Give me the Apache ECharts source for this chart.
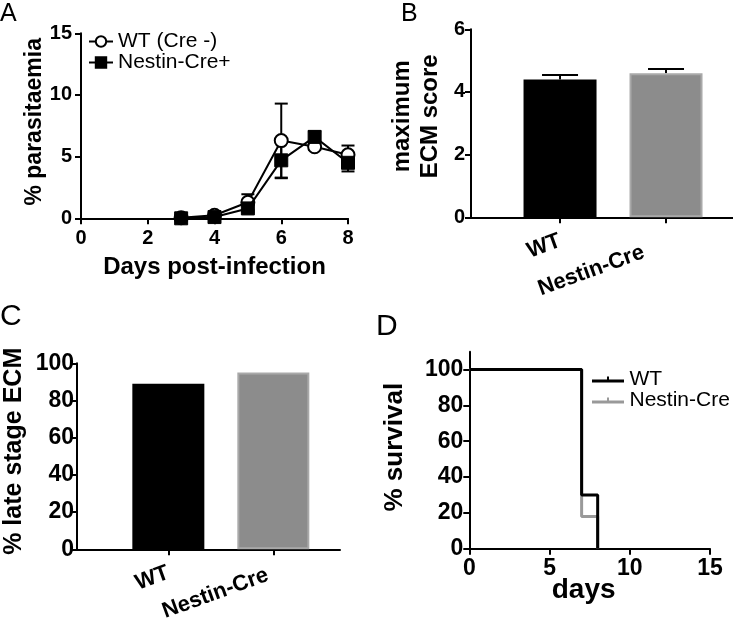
<!DOCTYPE html>
<html><head><meta charset="utf-8">
<script src="https://cdn.jsdelivr.net/npm/echarts@6/dist/echarts.min.js"></script>
<style>html,body{margin:0;padding:0;background:#fff}#c{width:733px;height:620px}</style>
</head><body><div id="c"></div>
<script>
const FONT = '"Liberation Sans", Arial, Helvetica, sans-serif';

// Panel A: parasitaemia over time (mean ± SEM)
const daysA = [3, 4, 5, 6, 7, 8];
const wtMeanA = [0.05, 0.25, 1.3, 6.3, 5.8, 5.15];
const wtSemA = [0.1, 0.15, 0.65, 3.0, 0.25, 0.75];
const nestinMeanA = [0.0, 0.1, 0.8, 4.7, 6.6, 4.5];
const nestinSemA = [0.1, 0.1, 0.3, 1.45, 0.45, 0.7];
const legendA = ['WT (Cre -)', 'Nestin-Cre+'];

// Panel B: maximum ECM score
const groupsB = ['WT', 'Nestin-Cre'];
const meanB = [4.40, 4.60];
const semB = [0.14, 0.13];

// Panel C: % late stage ECM
const groupsC = ['WT', 'Nestin-Cre'];
const valuesC = [89, 95];

// Panel D: survival (Kaplan-Meier steps)
const wtSurvDays = [0, 7, 8];
const wtSurv = [100, 30, 0];
const nestinSurvDays = [0, 7, 8];
const nestinSurv = [100, 18, 0];
const legendD = ['WT', 'Nestin-Cre'];

const barColors = ['#000000', '#8c8c8c'];
const barBorders = ['#000000', '#a9a9a9'];

const lineStyle = { color: '#000', width: 2 };
function axLabel(extra) {
  return Object.assign({ color: '#000', fontWeight: 'bold', fontSize: 20, fontFamily: FONT }, extra || {});
}
function nameStyle(extra) {
  return Object.assign({ color: '#000', fontWeight: 'bold', fontSize: 22, fontFamily: FONT }, extra || {});
}

function errRender(capHalf, upperOnly) {
  return function (params, api) {
    const x = api.value(0), lo = api.value(1), hi = api.value(2);
    const top = api.coord([x, hi]);
    const bot = api.coord([x, lo]);
    const st = { stroke: '#000', lineWidth: 2, fill: null };
    const ch = [
      { type: 'line', shape: { x1: top[0], y1: top[1], x2: bot[0], y2: bot[1] }, style: st },
      { type: 'line', shape: { x1: top[0] - capHalf, y1: top[1], x2: top[0] + capHalf, y2: top[1] }, style: st }
    ];
    if (!upperOnly) ch.push({ type: 'line', shape: { x1: bot[0] - capHalf, y1: bot[1], x2: bot[0] + capHalf, y2: bot[1] }, style: st });
    return { type: 'group', children: ch };
  };
}

const wtErrA = daysA.map((d, i) => [d, wtMeanA[i] - wtSemA[i], wtMeanA[i] + wtSemA[i]]);
const nestinErrA = daysA.map((d, i) => [d, nestinMeanA[i] - nestinSemA[i], nestinMeanA[i] + nestinSemA[i]]);
const errB = meanB.map((m, i) => [i + 1, m, m + semB[i]]);

const censorIcon = 'path://M0,3 L32,3 L32,6 L0,6 Z M15,0 L17,0 L17,3 L15,3 Z';

const chart = echarts.init(document.getElementById('c'));
chart.setOption({
  backgroundColor: '#fff',
  animation: false,
  textStyle: { fontFamily: FONT },
  graphic: [
    { type: 'text', left: 0, top: 2, style: { text: 'A', fontSize: 25, fontFamily: FONT, fill: '#000' } },
    { type: 'text', left: 401, top: 2, style: { text: 'B', fontSize: 25, fontFamily: FONT, fill: '#000' } },
    { type: 'text', left: 0, top: 302, style: { text: 'C', fontSize: 30, fontFamily: FONT, fill: '#000' } },
    { type: 'text', left: 376, top: 312, style: { text: 'D', fontSize: 30, fontFamily: FONT, fill: '#000' } }
  ],
  grid: [
    { left: 81, top: 33.3, width: 267, height: 185, outerBoundsMode: 'none' },
    { left: 471, top: 29.3, width: 262, height: 188, outerBoundsMode: 'none' },
    { left: 77, top: 363.3, width: 263, height: 186, outerBoundsMode: 'none' },
    { left: 469.3, top: 351.7, width: 240.7, height: 197, outerBoundsMode: 'none' }
  ],
  legend: [
    {
      data: legendA, orient: 'vertical', left: 83, top: 26, itemWidth: 24, itemHeight: 13, itemGap: 0,
      textStyle: { fontSize: 21, color: '#000', fontFamily: FONT, lineHeight: 21 }
    },
    {
      data: legendD.map(n => ({ name: n, icon: censorIcon })), orient: 'vertical', left: 587, top: 364,
      itemWidth: 33, itemHeight: 6, itemGap: 0,
      textStyle: { fontSize: 21, color: '#000', fontFamily: FONT, lineHeight: 19 }
    }
  ],
  xAxis: [
    {
      gridIndex: 0, type: 'value', min: 0, max: 8, interval: 2,
      axisLine: { lineStyle }, axisTick: { length: 6, lineStyle }, splitLine: { show: false },
      axisLabel: axLabel({ margin: 10 }),
      name: 'Days post-infection', nameLocation: 'middle', nameGap: 37,
      nameTextStyle: nameStyle({ fontSize: 24 })
    },
    {
      gridIndex: 1, type: 'value', min: 0.16, max: 2.632,
      axisLine: { lineStyle }, splitLine: { show: false },
      axisTick: { length: 6, lineStyle, customValues: [1, 2] },
      axisLabel: axLabel({
        fontSize: 22, customValues: [1, 2], rotate: 20, margin: 23,
        formatter: v => (Math.round(v) === 2 ? '{s|' + groupsB[1] + '}' : groupsB[0]),
        rich: { s: { fontSize: 22, fontWeight: 'bold', fontFamily: FONT, color: '#000', padding: [6, 25, 0, 0] } }
      })
    },
    {
      gridIndex: 2, type: 'value', min: 0.13, max: 2.635,
      axisLine: { lineStyle }, splitLine: { show: false },
      axisTick: { length: 6, lineStyle, customValues: [1, 2] },
      axisLabel: axLabel({
        fontSize: 22, customValues: [1, 2], rotate: 20, margin: 23,
        formatter: v => (Math.round(v) === 2 ? '{s|' + groupsC[1] + '}' : groupsC[0]),
        rich: { s: { fontSize: 22, fontWeight: 'bold', fontFamily: FONT, color: '#000', padding: [0, 6, 0, 0] } }
      })
    },
    {
      gridIndex: 3, type: 'value', min: 0, max: 15, interval: 5,
      axisLine: { lineStyle }, axisTick: { length: 6, lineStyle }, splitLine: { show: false },
      axisLabel: axLabel({ fontSize: 23, margin: 8 }),
      name: 'days', nameLocation: 'middle', nameGap: 28, nameMoveOverlap: false,
      nameTextStyle: nameStyle({ fontSize: 28, padding: [0, 12, 0, 0] })
    }
  ],
  yAxis: [
    {
      gridIndex: 0, type: 'value', min: 0, max: 15, interval: 5,
      axisLine: { lineStyle }, axisTick: { length: 6, lineStyle }, splitLine: { show: false },
      axisLabel: axLabel({ margin: 9 }),
      name: '% parasitaemia', nameLocation: 'middle', nameGap: 31, nameRotate: 90,
      nameTextStyle: nameStyle({ fontSize: 23, padding: [0, 0, 0, 8] })
    },
    {
      gridIndex: 1, type: 'value', min: 0, max: 6, interval: 2,
      axisLine: { lineStyle }, axisTick: { length: 6, lineStyle }, splitLine: { show: false },
      axisLabel: axLabel({ margin: 6 }),
      name: 'maximum\nECM score', nameLocation: 'middle', nameGap: 27, nameRotate: 90,
      nameTextStyle: nameStyle({ fontSize: 24, lineHeight: 28, padding: [0, 0, 0, 14] })
    },
    {
      gridIndex: 2, type: 'value', min: 0, max: 100, interval: 20,
      axisLine: { lineStyle }, axisTick: { length: 6, lineStyle }, splitLine: { show: false },
      axisLabel: axLabel({ fontSize: 23, margin: 3 }),
      name: '% late stage ECM', nameLocation: 'middle', nameGap: 50, nameRotate: 90,
      nameTextStyle: nameStyle({ fontSize: 25, padding: [0, 0, 0, 10] })
    },
    {
      gridIndex: 3, type: 'value', min: 0, max: 110,
      axisLine: { lineStyle }, splitLine: { show: false },
      axisTick: { length: 6, lineStyle, customValues: [0, 20, 40, 60, 80, 100] },
      axisLabel: axLabel({ fontSize: 23, margin: 6, customValues: [0, 20, 40, 60, 80, 100] }),
      name: '% survival', nameLocation: 'middle', nameGap: 61, nameRotate: 90,
      nameTextStyle: nameStyle({ fontSize: 26, padding: [0, 0, 0, 6] })
    }
  ],
  series: [
    // Panel A error bars
    { type: 'custom', xAxisIndex: 0, yAxisIndex: 0, z: 1, silent: true, renderItem: errRender(6.5, false),
      encode: { x: 0, y: [1, 2] }, data: wtErrA },
    { type: 'custom', xAxisIndex: 0, yAxisIndex: 0, z: 1, silent: true, renderItem: errRender(6.5, false),
      encode: { x: 0, y: [1, 2] }, data: nestinErrA },
    { name: legendA[0], type: 'line', xAxisIndex: 0, yAxisIndex: 0, z: 3,
      data: daysA.map((d, i) => [d, wtMeanA[i]]), symbol: 'circle', symbolSize: 13,
      lineStyle: { color: '#000', width: 2 }, itemStyle: { color: '#fff', borderColor: '#000', borderWidth: 2 } },
    { name: legendA[1], type: 'line', xAxisIndex: 0, yAxisIndex: 0, z: 4,
      data: daysA.map((d, i) => [d, nestinMeanA[i]]), symbol: 'rect', symbolSize: 13,
      lineStyle: { color: '#000', width: 2 }, itemStyle: { color: '#000', borderColor: '#000', borderWidth: 1 } },
    // Panel B
    { type: 'bar', xAxisIndex: 1, yAxisIndex: 1, barWidth: 73, z: 2,
      data: meanB.map((v, i) => ({ value: [i + 1, v], itemStyle: { color: barColors[i], borderColor: barBorders[i], borderWidth: 2 } })) },
    { type: 'custom', xAxisIndex: 1, yAxisIndex: 1, z: 1, silent: true, renderItem: errRender(18, true),
      encode: { x: 0, y: [1, 2] }, data: errB },
    // Panel C
    { type: 'bar', xAxisIndex: 2, yAxisIndex: 2, barWidth: 72, z: 2,
      data: valuesC.map((v, i) => ({ value: [i + 1, v], itemStyle: { color: barColors[i], borderColor: barBorders[i], borderWidth: 2 } })) },
    // Panel D
    { name: legendD[1], type: 'line', xAxisIndex: 3, yAxisIndex: 3, step: 'end', symbol: 'none', z: 2,
      data: nestinSurvDays.map((d, i) => [d, nestinSurv[i]]), lineStyle: { color: '#999', width: 3 }, itemStyle: { color: '#999' } },
    { name: legendD[0], type: 'line', xAxisIndex: 3, yAxisIndex: 3, step: 'end', symbol: 'none', z: 3,
      data: wtSurvDays.map((d, i) => [d, wtSurv[i]]), lineStyle: { color: '#000', width: 3 }, itemStyle: { color: '#000' } }
  ]
});
</script>
</body></html>
